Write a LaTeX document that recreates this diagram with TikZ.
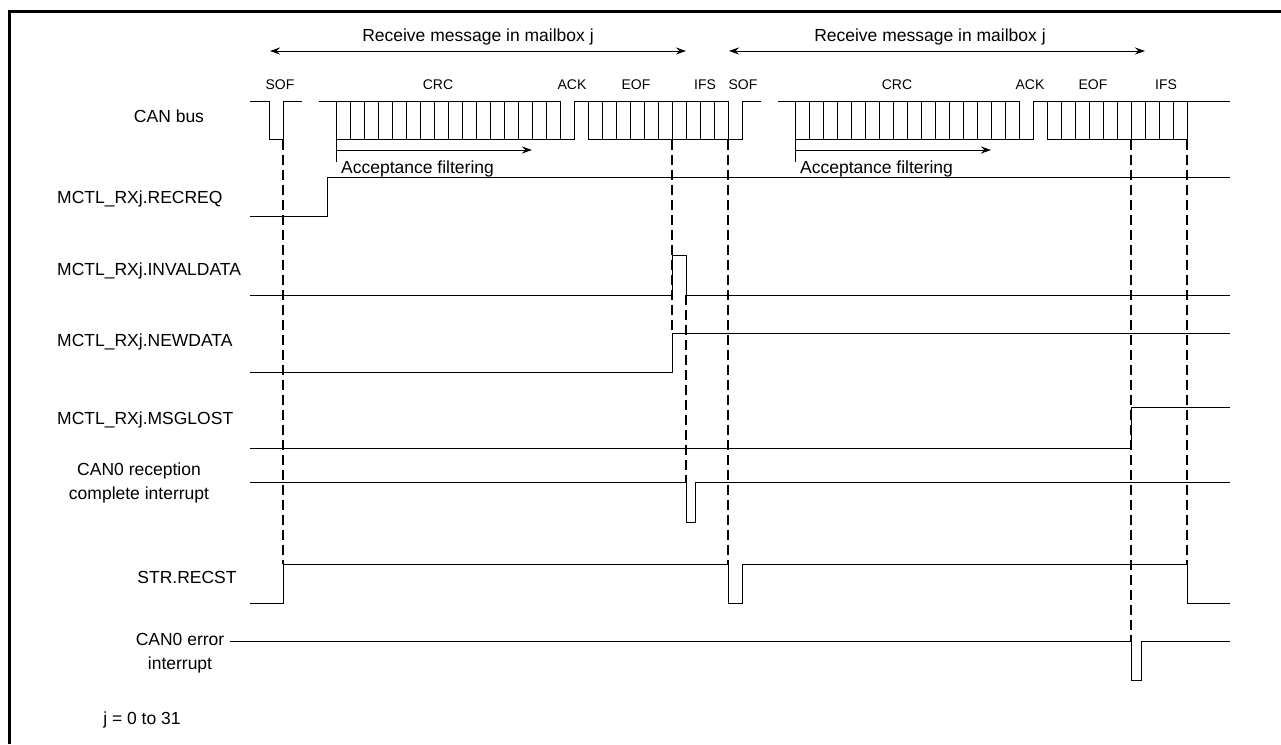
\documentclass[tikz,border=0pt]{standalone}
\usepackage{fontspec}
\setmainfont{Liberation Sans}
\usepackage{tikz}
\usetikzlibrary{arrows.meta, positioning, calc}

\begin{document}
\begin{tikzpicture}[x=1pt, y=-1pt,
		wave/.style={line width=1pt, line join=miter},
		sync/.style={line width=2.6pt, dash pattern=on 10pt off 5pt},
		sig/.style={font=\fontsize{17.5}{24}\selectfont, inner sep=0pt},
		field/.style={font=\fontsize{14}{16}\selectfont, inner sep=0pt},
		span/.style={line width=1pt, {Stealth[length=10pt, width=7pt]}-{Stealth[length=10pt, width=7pt]}},
		tip/.style={line width=1pt, -{Stealth[length=10pt, width=7pt]}}]
		\useasboundingbox (0,0) rectangle (1281,744);
		
		% Frame
		\draw[line width=3pt] (9,744) -- (9,11.3) -- (1281,11.3);
		
		% Message spans
		\draw[span] (270,51) -- (686,51);
		\draw[span] (729,51) -- (1145,51);
		\node[sig, anchor=base] (msgA) at (478,41.5) {Receive message in mailbox j};
		\node[sig, anchor=base] (msgB) at (930,41.5) {Receive message in mailbox j};
		
		% Field names
		\node[field, anchor=base] (sofA) at (280,89) {SOF};
		\node[field, anchor=base] (crcA) at (438,89) {CRC};
		\node[field, anchor=base] (ackA) at (572,89) {ACK};
		\node[field, anchor=base] (eofA) at (636,89) {EOF};
		\node[field, anchor=base] (ifsA) at (705,89) {IFS};
		\node[field, anchor=base] (sofB) at (743,89) {SOF};
		\node[field, anchor=base] (crcB) at (897,89) {CRC};
		\node[field, anchor=base] (ackB) at (1030,89) {ACK};
		\node[field, anchor=base] (eofB) at (1093,89) {EOF};
		\node[field, anchor=base] (ifsB) at (1166,89) {IFS};
		
		% Signal names
		\node[sig, anchor=base] (canbus) at (169,122) {CAN bus};
		\node[sig, anchor=base west] (recreq) at (57,203) {MCTL\_RXj.RECREQ};
		\node[sig, anchor=base west] (invaldata) at (57,275) {MCTL\_RXj.INVALDATA};
		\node[sig, anchor=base west] (newdata) at (57,346) {MCTL\_RXj.NEWDATA};
		\node[sig, anchor=base west] (msglost) at (57,424) {MCTL\_RXj.MSGLOST};
		\node[sig, align=center] (rxint) at (139,483) {CAN0 reception\\complete interrupt};
		\node[sig, anchor=base] (recst) at (187,583) {STR.RECST};
		\node[sig, align=center] (errint) at (180,653) {CAN0 error\\interrupt};
		\node[sig, anchor=base] (jrange) at (142,724) {j = 0 to 31};
		
		% CAN bus, first message
		\draw[wave] (250,101.5) -- (269,101.5) -- (269,139.5) -- (283,139.5) -- (283,101.5) -- (302,101.5);
		\draw[wave] (319,101.5) -- (560,101.5) -- (560,139.5) -- (574,139.5) -- (574,101.5) -- (728,101.5) -- (728,139.5);
		\draw[wave] (336,139.5) -- (560,139.5);
		\draw[wave] (588,139.5) -- (742,139.5) -- (742,101.5) -- (761,101.5);
		\foreach \k in {0,...,15}
		\draw[wave] ({336+14*\k},101.5) -- ({336+14*\k},139.5);
		\foreach \k in {0,...,9}
		\draw[wave] ({588+14*\k},101.5) -- ({588+14*\k},139.5);
		
		% CAN bus, second message
		\draw[wave] (778,101.5) -- (1019,101.5) -- (1019,139.5) -- (1033,139.5) -- (1033,101.5) -- (1230,101.5);
		\draw[wave] (795,139.5) -- (1019,139.5);
		\draw[wave] (1047,139.5) -- (1187,139.5) -- (1187,101.5);
		\foreach \k in {0,...,15}
		\draw[wave] ({795+14*\k},101.5) -- ({795+14*\k},139.5);
		\foreach \k in {0,...,9}
		\draw[wave] ({1047+14*\k},101.5) -- ({1047+14*\k},139.5);
		
		% Acceptance filtering
		\draw[wave] (336,139.5) -- (336,162);
		\draw[tip] (336,150) -- (532,150);
		\node[sig, anchor=base west] (filtA) at (341,173) {Acceptance filtering};
		\draw[wave] (795,139.5) -- (795,162);
		\draw[tip] (795,150) -- (991,150);
		\node[sig, anchor=base west] (filtB) at (800,173) {Acceptance filtering};
		
		% Flags
		\draw[wave] (250,216.5) -- (327,216.5) -- (327,177) -- (1230,177);
		\draw[wave] (250,295) -- (672,295) -- (672,255) -- (686,255) -- (686,295) -- (1230,295);
		\draw[wave] (250,372.5) -- (672,372.5) -- (672,333) -- (1230,333);
		\draw[wave] (250,448) -- (1131,448) -- (1131,407.5) -- (1230,407.5);
		\draw[wave] (250,482) -- (686,482) -- (686,522) -- (695,522) -- (695,482) -- (1230,482);
		\draw[wave] (250,603) -- (283,603) -- (283,564) -- (728,564) -- (728,603) -- (742,603) -- (742,564) -- (1187,564) -- (1187,603) -- (1230,603);
		\draw[wave] (230,641) -- (1131,641) -- (1131,680) -- (1141,680) -- (1141,641) -- (1230,641);
		
		% Timing guides
		\draw[sync] (283,139.5) -- (283,564);
		\draw[sync] (672,139.5) -- (672,333);
		\draw[sync] (686,295) -- (686,482);
		\draw[sync] (728,139.5) -- (728,564);
		\draw[sync] (1131,139.5) -- (1131,641);
		\draw[sync] (1187,139.5) -- (1187,564);
	\end{tikzpicture}
\end{document}
